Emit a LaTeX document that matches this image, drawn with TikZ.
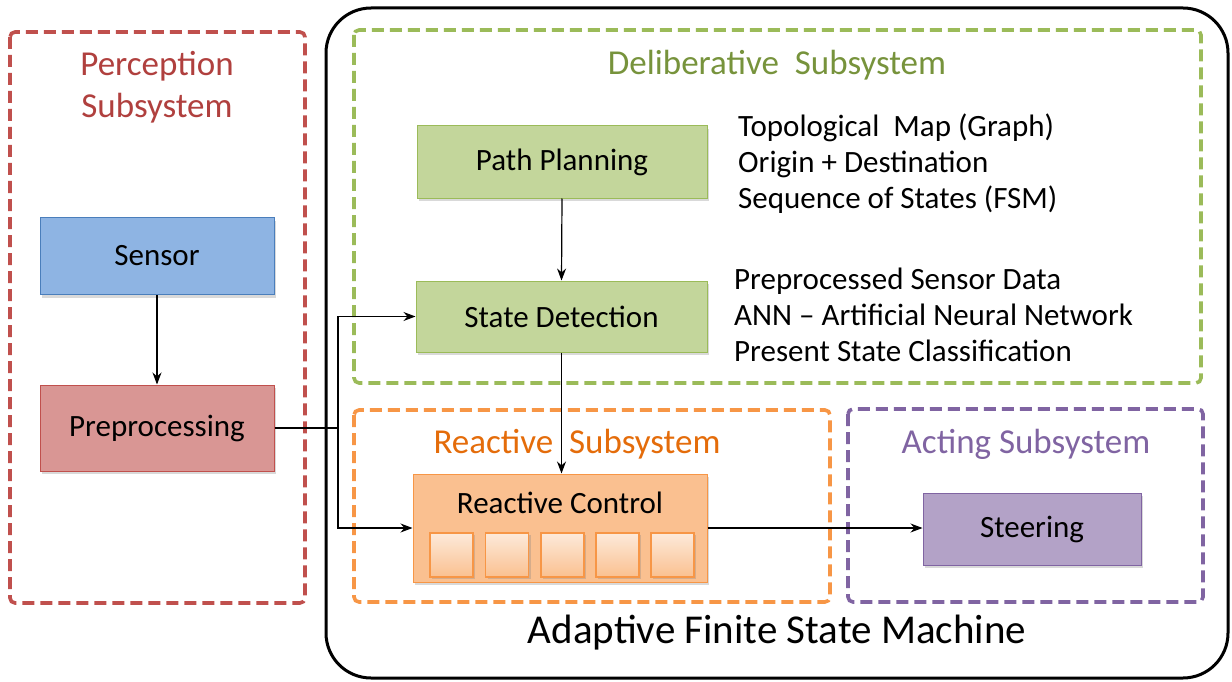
\documentclass[tikz,border=0pt]{standalone}
\usepackage{fontspec}
\setmainfont{Carlito}
\usetikzlibrary{arrows.meta,shadows}
\definecolor{redL}{HTML}{C0504D}
\definecolor{redT}{HTML}{B0403E}
\definecolor{greenL}{HTML}{9BBB59}
\definecolor{greenT}{HTML}{77933C}
\definecolor{orangeL}{HTML}{F79646}
\definecolor{orangeT}{HTML}{E46C0A}
\definecolor{purpleL}{HTML}{8064A2}
\definecolor{purpleT}{HTML}{8064A2}
\definecolor{blueF}{HTML}{8EB4E3}
\definecolor{blueB}{HTML}{4A7EBB}
\definecolor{redF}{HTML}{D99694}
\definecolor{greenF}{HTML}{C3D69B}
\definecolor{orangeF}{HTML}{FAC090}
\definecolor{orangeLight}{HTML}{FDEADA}
\definecolor{purpleF}{HTML}{B3A2C7}
\begin{document}
\begin{tikzpicture}[x=1pt,y=-1pt,
  body/.style={font=\fontsize{31}{37}\selectfont},
  ttl/.style={font=\fontsize{35}{42}\selectfont},
  box/.style={draw, line width=1pt, inner sep=0pt, body,
    drop shadow={opacity=0.3,shadow xshift=2pt,shadow yshift=-3pt}},
  grp/.style={dash pattern=on 12pt off 6pt, line width=3.6pt, rounded corners=5pt},
  arr/.style={-{Stealth[length=12pt,width=9pt]}, line width=1.2pt},
  ln/.style={line width=1.2pt},
  txt/.style={body, anchor=west, inner sep=0pt, text height=22pt, text depth=7pt},
  small/.style={draw=orangeL, line width=1.2pt, top color=orangeLight, bottom color=orangeF,
    minimum width=43pt, minimum height=44pt, inner sep=0pt,
    drop shadow={opacity=0.3,shadow xshift=2pt,shadow yshift=-2pt}}
]
\useasboundingbox (0,0) rectangle (1232,682);

% frames
\draw[line width=3pt, rounded corners=45pt] (326,8) rectangle (1228,678);
\draw[grp, draw=redL] (10,32) rectangle (305,603);
\draw[grp, draw=greenL] (354,30) rectangle (1201,383);
\draw[grp, draw=orangeL] (354,410) rectangle (830,602);
\draw[grp, draw=purpleL] (848,409) rectangle (1203,602);

% titles
\node[ttl, text=redT, align=center] (tper) at (157,87) {Perception\\Subsystem};
\node[ttl, text=greenT] (tdel) at (777,65) {Deliberative\ \ Subsystem};
\node[ttl, text=orangeT] (trea) at (577,444) {Reactive\ \ Subsystem};
\node[ttl, text=purpleT] (tact) at (1026,444) {Acting Subsystem};
\node[font=\fontsize{41}{48}\selectfont] (tafsm) at (777,633) {Adaptive Finite State Machine};

% blocks
\node[box, draw=blueB, fill=blueF, minimum width=234pt, minimum height=77pt] (sen) at (157,256) {Sensor};
\node[box, draw=redL, fill=redF, minimum width=234pt, minimum height=86pt] (pre) at (157,428) {Preprocessing};
\node[box, draw=greenL, fill=greenF, minimum width=290pt, minimum height=72pt] (pp) at (562,162) {Path Planning};
\node[box, draw=greenL, fill=greenF, minimum width=291pt, minimum height=71pt] (sd) at (561.5,316.5) {State Detection};
\node[box, draw=orangeL, fill=orangeF, minimum width=294pt, minimum height=108pt] (rc) at (560,528) {};
\node[body] (rct) at (560,503) {Reactive Control};
\node[small] (s1) at (451.5,555) {};
\node[small] (s2) at (507,555) {};
\node[small] (s3) at (562.5,555) {};
\node[small] (s4) at (617.5,555) {};
\node[small] (s5) at (672.5,555) {};
\node[box, draw=purpleL, fill=purpleF, minimum width=218pt, minimum height=72pt] (st) at (1032,529) {Steering};

% side texts
\node[txt] (t1) at (738,129) {Topological\ \ Map (Graph)};
\node[txt] (t2) at (738,165) {Origin + Destination};
\node[txt] (t3) at (738,201) {Sequence of States (FSM)};
\node[txt] (t4) at (734,282) {Preprocessed Sensor Data};
\node[txt] (t5) at (734,318) {ANN -- Artificial Neural Network};
\node[txt] (t6) at (734,354) {Present State Classification};

% connectors
\coordinate (j) at (338,428);
\draw[arr] (sen.south) -- (pre.north);
\draw[arr] (pp.south) -- (sd.north);
\draw[arr] (sd.south) -- (sd.south |- rc.north);
\draw[ln] (pre.east) -- (j);
\draw[arr] (j) |- (sd.west);
\draw[arr] (j) |- (rc.west);
\draw[arr] (rc.east) -- (rc.east -| st.west);
\end{tikzpicture}
\end{document}
